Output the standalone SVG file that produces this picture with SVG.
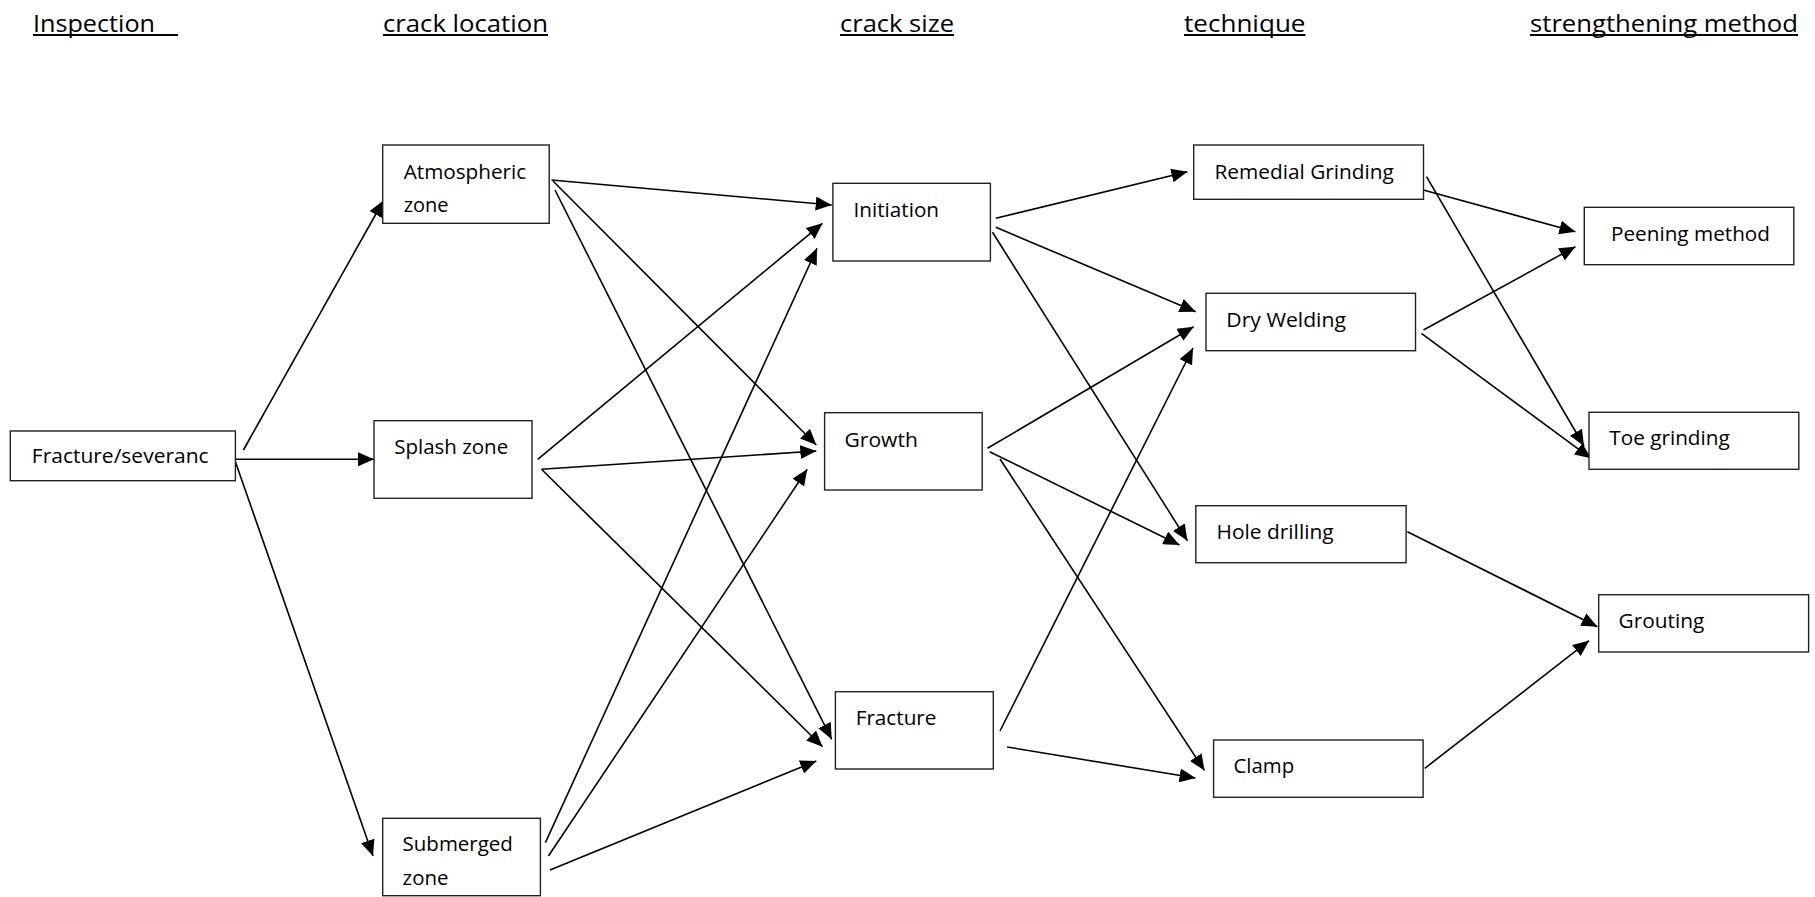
<svg xmlns="http://www.w3.org/2000/svg" width="1815" height="897" viewBox="0 0 1815 897">
  <style>
    .bg { fill: #ffffff; }
    .box { fill: #ffffff; stroke: #222222; stroke-width: 1.4; }
    .lbl { font-family: "Open Sans", "Liberation Sans", sans-serif; font-size: 20px; fill: #000000; }
    .head { font-family: "Open Sans", "Liberation Sans", sans-serif; font-size: 24.5px; fill: #000000; }
    .uline { stroke: #000000; stroke-width: 1.8; }
    .edge { fill: none; stroke: #000000; stroke-width: 1.6; marker-end: url(#arrow); }
  </style>
  <defs>
    <marker id="arrow" markerUnits="userSpaceOnUse" markerWidth="16" markerHeight="14" viewBox="0 0 16 14" refX="16" refY="7" orient="auto">
      <path d="M0,0 L16,7 L0,14 z" fill="#000000"/>
    </marker>
  </defs>
  <rect class="bg" x="0" y="0" width="1815" height="897"/>

  <!-- column headings -->
  <g id="headings">
    <text class="head" x="33" y="31.5" textLength="122" lengthAdjust="spacingAndGlyphs">Inspection</text>
    <line class="uline" x1="33" y1="35" x2="178" y2="35"/>
    <text class="head" x="383" y="31.5" textLength="165" lengthAdjust="spacingAndGlyphs">crack location</text>
    <line class="uline" x1="383" y1="35" x2="548" y2="35"/>
    <text class="head" x="840" y="31.5" textLength="114" lengthAdjust="spacingAndGlyphs">crack size</text>
    <line class="uline" x1="840" y1="35" x2="954" y2="35"/>
    <text class="head" x="1184" y="31.5" textLength="121.5" lengthAdjust="spacingAndGlyphs">technique</text>
    <line class="uline" x1="1184" y1="35" x2="1305.5" y2="35"/>
    <text class="head" x="1530" y="31.5" textLength="268" lengthAdjust="spacingAndGlyphs">strengthening method</text>
    <line class="uline" x1="1530" y1="35" x2="1798" y2="35"/>
  </g>

  <!-- connectors -->
  <g id="connectors">
    <line class="edge" x1="243.4" y1="450" x2="383.5" y2="200.5"/>
    <line class="edge" x1="235.4" y1="459.3" x2="374" y2="459.3"/>
    <line class="edge" x1="235.4" y1="461.7" x2="373" y2="856"/>

    <line class="edge" x1="551.5" y1="180" x2="831.7" y2="205"/>
    <line class="edge" x1="553" y1="181" x2="816.3" y2="445"/>
    <line class="edge" x1="555" y1="190" x2="831.7" y2="739.3"/>

    <line class="edge" x1="537.7" y1="459.3" x2="822.5" y2="223.3"/>
    <line class="edge" x1="541.5" y1="469.3" x2="816.3" y2="451"/>
    <line class="edge" x1="541.5" y1="469.3" x2="822.5" y2="746.7"/>

    <line class="edge" x1="545.4" y1="842.7" x2="817" y2="248.3"/>
    <line class="edge" x1="548.4" y1="856" x2="807.2" y2="469.3"/>
    <line class="edge" x1="550" y1="870" x2="816.3" y2="761"/>

    <line class="edge" x1="995.8" y1="218.3" x2="1187.4" y2="171.7"/>
    <line class="edge" x1="995.8" y1="227.3" x2="1195.7" y2="311.7"/>
    <line class="edge" x1="992.5" y1="232.3" x2="1187.4" y2="540.7"/>

    <line class="edge" x1="987.5" y1="448.3" x2="1193.6" y2="326.7"/>
    <line class="edge" x1="989.6" y1="451.7" x2="1179.5" y2="545"/>
    <line class="edge" x1="1000" y1="459" x2="1204.5" y2="770.5"/>

    <line class="edge" x1="1000" y1="731" x2="1193" y2="348"/>
    <line class="edge" x1="1007" y1="747" x2="1195.5" y2="778"/>

    <line class="edge" x1="1420.6" y1="189.3" x2="1575.4" y2="231.7"/>
    <line class="edge" x1="1426.5" y1="176.7" x2="1584" y2="446"/>
    <line class="edge" x1="1423.5" y1="330" x2="1575.4" y2="246.7"/>
    <line class="edge" x1="1421.4" y1="333.3" x2="1591" y2="458.3"/>

    <line class="edge" x1="1407.4" y1="531.7" x2="1597.4" y2="626.7"/>
    <line class="edge" x1="1424.8" y1="768.3" x2="1589" y2="640.7"/>
  </g>

  <!-- inspection -->
  <g id="node-fracture-severance">
    <rect class="box" x="10.3" y="431" width="225.1" height="49.7"/>
    <text class="lbl" x="31.8" y="463.3" textLength="176.8" lengthAdjust="spacingAndGlyphs">Fracture/severanc</text>
  </g>

  <!-- crack location -->
  <g id="node-atmospheric">
    <rect class="box" x="382.7" y="145" width="166.5" height="78.3"/>
    <text class="lbl" x="403.7" y="179.3" textLength="122.5" lengthAdjust="spacingAndGlyphs">Atmospheric</text>
    <text class="lbl" x="403.7" y="212" textLength="44.8" lengthAdjust="spacingAndGlyphs">zone</text>
  </g>
  <g id="node-splash">
    <rect class="box" x="374" y="420.7" width="158" height="77.6"/>
    <text class="lbl" x="394.2" y="454" textLength="114" lengthAdjust="spacingAndGlyphs">Splash zone</text>
  </g>
  <g id="node-submerged">
    <rect class="box" x="382.7" y="818.3" width="157.7" height="77.4"/>
    <text class="lbl" x="402.6" y="850.7" textLength="110.2" lengthAdjust="spacingAndGlyphs">Submerged</text>
    <text class="lbl" x="402.6" y="885" textLength="45.9" lengthAdjust="spacingAndGlyphs">zone</text>
  </g>

  <!-- crack size -->
  <g id="node-initiation">
    <rect class="box" x="832.9" y="183.3" width="157.5" height="77.7"/>
    <text class="lbl" x="853.6" y="217.3" textLength="85.4" lengthAdjust="spacingAndGlyphs">Initiation</text>
  </g>
  <g id="node-growth">
    <rect class="box" x="824.6" y="412.7" width="157.6" height="77.3"/>
    <text class="lbl" x="844.5" y="446.7" textLength="73.4" lengthAdjust="spacingAndGlyphs">Growth</text>
  </g>
  <g id="node-fracture">
    <rect class="box" x="835.4" y="691.7" width="157.9" height="77.3"/>
    <text class="lbl" x="855.7" y="725" textLength="80.8" lengthAdjust="spacingAndGlyphs">Fracture</text>
  </g>

  <!-- technique -->
  <g id="node-remedial-grinding">
    <rect class="box" x="1193.7" y="145" width="229.8" height="54.3"/>
    <text class="lbl" x="1214.5" y="179.3" textLength="179.4" lengthAdjust="spacingAndGlyphs">Remedial Grinding</text>
  </g>
  <g id="node-dry-welding">
    <rect class="box" x="1206" y="293.3" width="209.5" height="57.4"/>
    <text class="lbl" x="1226.3" y="326.7" textLength="119.6" lengthAdjust="spacingAndGlyphs">Dry Welding</text>
  </g>
  <g id="node-hole-drilling">
    <rect class="box" x="1195.8" y="505.7" width="210.3" height="57"/>
    <text class="lbl" x="1216.6" y="539.3" textLength="117" lengthAdjust="spacingAndGlyphs">Hole drilling</text>
  </g>
  <g id="node-clamp">
    <rect class="box" x="1213.6" y="740" width="209.5" height="57.3"/>
    <text class="lbl" x="1233.5" y="773.3" textLength="60.7" lengthAdjust="spacingAndGlyphs">Clamp</text>
  </g>

  <!-- strengthening method -->
  <g id="node-peening">
    <rect class="box" x="1584.3" y="207.3" width="209.5" height="57.4"/>
    <text class="lbl" x="1611" y="241" textLength="159" lengthAdjust="spacingAndGlyphs">Peening method</text>
  </g>
  <g id="node-toe-grinding">
    <rect class="box" x="1589" y="412.3" width="209.8" height="57"/>
    <text class="lbl" x="1609.3" y="445" textLength="120.4" lengthAdjust="spacingAndGlyphs">Toe grinding</text>
  </g>
  <g id="node-grouting">
    <rect class="box" x="1598.7" y="594.7" width="209.9" height="57.3"/>
    <text class="lbl" x="1618.6" y="627.7" textLength="85.7" lengthAdjust="spacingAndGlyphs">Grouting</text>
  </g>
</svg>
